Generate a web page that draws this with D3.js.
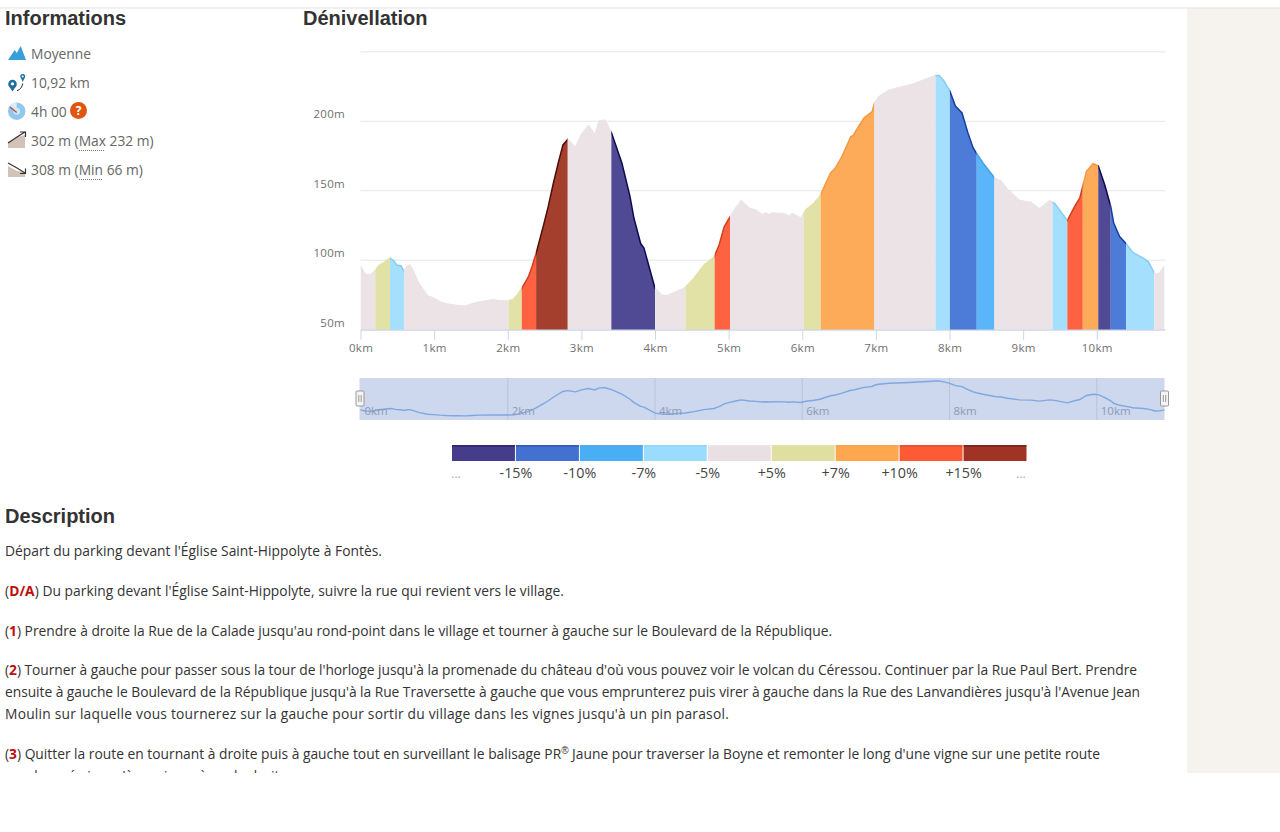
<!DOCTYPE html>
<html lang="fr"><head><meta charset="utf-8"><title>Dénivellation</title>
<script src="https://cdn.jsdelivr.net/npm/d3@7/dist/d3.min.js"></script>
<style>
html,body{margin:0;padding:0;background:#fff;overflow:hidden}
svg{display:block}
text{font-family:"Open Sans","Noto Sans",sans-serif}
.h{font-family:"Liberation Sans",Arial,sans-serif;font-weight:700;font-size:20px;fill:#333}
.info{font-size:13.8px;fill:#666}
.para{font-size:13.8px;fill:#333}
.para .red{fill:#c00d0d;font-weight:700}
.tick-l{font-size:11.5px;fill:#707070;letter-spacing:.3px}
</style></head><body>
<svg id="c" width="1280" height="832"></svg>
<script>
// Elevation profile: distance (km) and altitude (m)
const distanceKm = [0,.05,.086,.15,.2,.245,.31,.4,.45,.49,.55,.59,.63,.67,.72,.79,.91,.99,1.08,1.17,1.31,1.42,1.51,1.62,1.8,1.87,2.01,2.08,2.14,2.19,2.28,2.33,2.385,2.48,2.55,2.62,2.69,2.75,2.815,2.92,3.0,3.095,3.185,3.24,3.32,3.41,3.55,3.66,3.715,3.805,3.85,4.0,4.09,4.167,4.26,4.416,4.53,4.665,4.8,4.87,4.94,5.0,5.095,5.17,5.28,5.37,5.46,5.5,5.55,5.59,5.75,5.82,5.865,5.98,6.05,6.16,6.24,6.32,6.385,6.45,6.54,6.66,6.69,6.75,6.84,6.95,6.98,7.04,7.18,7.38,7.52,7.7,7.81,7.86,7.925,8.005,8.08,8.17,8.25,8.32,8.365,8.455,8.615,8.7,8.79,8.95,9.11,9.22,9.36,9.43,9.6,9.7,9.77,9.86,9.95,10.02,10.11,10.19,10.23,10.31,10.4,10.49,10.63,10.7,10.79,10.855,10.92];
const altitudeM = [95.5,91,89.4,90,92.5,96,98,101.5,99.8,96.6,96,92,95.5,96.6,92,83.4,74.3,72.8,70,68.5,67.5,66.8,68.5,70,71.6,71,70.7,72,75.7,79.8,88,95.5,105,124,138.7,155.6,171,183,187,181,190.4,197,190.4,200,200.8,191.6,170,146,130,112,108.7,79.8,75,74.5,76.7,80.5,87,96.6,102,111,124,129.6,137.5,142.8,137.5,136,132.7,134,132.7,134,133.5,131.5,133.5,130.3,136.3,141,146,155.6,162.8,166.4,174.8,189,189.7,195,202.5,207,213,217.6,222.4,225,227,230.6,233,233,229,221.7,211,206,191.6,181,177,170,159,156.7,150.8,143,141.6,136.8,142.8,140.7,128.6,138.7,144.8,164,169.5,168,154,138.7,126.7,117,111.8,105.6,101.5,99,90,90.6,95.5];
// Slope zones: upper bound of each stretch (km) and its class
const zoneEndKm = [.2,.4,.59,2.014,2.19,2.385,2.815,3.407,4,4.416,4.81,5.02,6.02,6.25,6.98,7.81,8.005,8.37,8.61,9.4,9.6,9.81,10.02,10.19,10.4,10.78,10.92];
const zoneClass = [4,5,3,4,5,7,8,4,0,4,5,7,4,5,6,4,3,1,2,4,3,7,6,0,1,3,4];
// Legend
const legendFill = ["#453d8c","#4371d2","#4aaef5","#9adcfd","#e8e0e3","#dfdfa0","#fda84e","#fd5a36","#a03323"];
const areaFill   = ["#504993","#4d7bd8","#5ab6f8","#a4e0fd","#ebe3e6","#e2e2a6","#fdab58","#fe6240","#a53f2d"];
const lineStroke = ["#0e0a50","#17409e","#45a0e2","#86cdf2","#ebe3e6","#e2e2a6","#f09a48","#d0401f","#4f0d04"];
const legendLabels = ["-15%","-10%","-7%","-5%","+5%","+7%","+10%","+15%"];
const yTicks = [50,100,150,200,250];
const xTicks = [0,1,2,3,4,5,6,7,8,9,10];
const navTicks = [0,2,4,6,8,10];
const infoLines = ["Moyenne","10,92 km","4h 00"];

const svg = d3.select("#c");
const data = distanceKm.map((d,i)=>({d,a:altitudeM[i]}));
const x = d3.scaleLinear().domain([0,10.92]).range([360.5,1164.5]);
const y = d3.scaleLinear().domain([50,250]).range([329.7,51.8]);
const x0 = x.range()[0], x1 = x.range()[1];

// page furniture
svg.append("rect").attr("x",1187).attr("y",8).attr("width",93).attr("height",765).attr("fill","#f6f3ee");
svg.append("line").attr("x1",0).attr("x2",1280).attr("y1",8).attr("y2",8).attr("stroke","#e4e4e4");

// headings
[["Informations",5,25],["Dénivellation",303,25],["Description",5,523]].forEach(([t,a,b])=>
  svg.append("text").attr("class","h").attr("x",a).attr("y",b).text(t));

// main chart
const g = svg.append("g");
g.append("g").selectAll("line").data(yTicks).join("line")
  .attr("x1",x0).attr("x2",x1+1).attr("y1",d=>y(d)).attr("y2",d=>y(d))
  .attr("stroke",d=>d===50?"#ccd6eb":"#e6e6e6");
g.append("g").selectAll("text").data(yTicks.slice(0,4)).join("text").attr("class","tick-l")
  .attr("x",345).attr("y",d=>y(d)-3).attr("text-anchor","end").text(d=>d+"m");

const defs = svg.append("defs");
const area = d3.area().x(d=>x(d.d)).y0(y(50)).y1(d=>y(d.a));
const line = d3.line().x(d=>x(d.d)).y(d=>y(d.a));
zoneEndKm.forEach((end,i)=>{
  const start = i?zoneEndKm[i-1]:0, id="z"+i;
  defs.append("clipPath").attr("id",id).append("rect")
    .attr("x",x(start)).attr("y",40).attr("width",x(end)-x(start)).attr("height",300);
  const c = zoneClass[i];
  const z = g.append("g").attr("clip-path",`url(#${id})`);
  z.append("path").datum(data).attr("d",area).attr("fill",areaFill[c]);
  z.append("path").datum(data).attr("d",line).attr("fill","none").attr("stroke",lineStroke[c]).attr("stroke-width",1.5);
});

const xAxis = d3.axisBottom(x).tickValues(xTicks).tickFormat(d=>d+"km").tickSize(10).tickSizeOuter(0).tickPadding(4);
const ax = g.append("g").attr("transform",`translate(0,${y(50)})`).call(xAxis);
ax.attr("font-size",null).attr("font-family",null);
ax.select(".domain").attr("stroke","#ccd6eb");
ax.selectAll("line").attr("stroke","#ccd6eb");
ax.selectAll("text").attr("class","tick-l");

// navigator
const navY = d3.scaleLinear().domain([66,233]).range([416,381]);
const nav = svg.append("g");
nav.append("rect").attr("x",x0-1).attr("y",378).attr("width",x1-x0+1).attr("height",42).attr("fill","#cdd7ed");
nav.selectAll("line.g").data(navTicks.slice(1)).join("line").attr("class","g")
  .attr("x1",d=>x(d)).attr("x2",d=>x(d)).attr("y1",378).attr("y2",420).attr("stroke","#b9c3da");
nav.append("path").datum(data).attr("fill","none").attr("stroke","#7ea8e0").attr("stroke-width",1.4)
  .attr("d",d3.line().x(d=>x(d.d)).y(d=>navY(d.a)));
nav.selectAll("text").data(navTicks).join("text")
  .attr("x",d=>x(d)+4).attr("y",415).attr("font-size",11.5).attr("fill","#8f9ab3").text(d=>d+"km");
[x0-0.5,x1].forEach(h=>{
  const k = nav.append("g").attr("transform",`translate(${h},0)`);
  k.append("rect").attr("x",-4).attr("y",391).attr("width",8).attr("height",15).attr("rx",1).attr("fill","#f4f4f4").attr("stroke","#999");
  [-1.2,1.2].forEach(o=>k.append("line").attr("x1",o).attr("x2",o).attr("y1",395).attr("y2",402).attr("stroke","#999"));
});

// colour legend
const lx = d3.scaleBand().domain(d3.range(9)).range([452,1027.5]);
const leg = svg.append("g");
leg.selectAll("rect").data(legendFill).join("rect")
  .attr("x",(d,i)=>lx(i)).attr("y",445.3).attr("width",lx.bandwidth()-1).attr("height",15.7).attr("fill",d=>d);
leg.selectAll("line").data(lineStroke).join("line")
  .attr("x1",(d,i)=>lx(i)).attr("x2",(d,i)=>lx(i)+lx.bandwidth()-1).attr("y1",445.8).attr("y2",445.8).attr("stroke",d=>d);
leg.selectAll("text.l").data(legendLabels).join("text").attr("class","l")
  .attr("x",(d,i)=>lx(i+1)).attr("y",478).attr("text-anchor","middle").attr("font-size",14.3).attr("fill","#444").text(d=>d);
[456,1021].forEach(p=>leg.append("text").attr("x",p).attr("y",478).attr("text-anchor","middle").attr("font-size",12).attr("fill","#aaa").text("..."));

// information column
infoLines.forEach((t,i)=>svg.append("text").attr("class","info").attr("x",31).attr("y",59+i*29).text(t));
function measured(txt,yy,word){
  const el = svg.append("text").attr("class","info").attr("x",31).attr("y",yy);
  el.append("tspan").text(txt[0]);
  el.append("tspan").text(word);
  el.append("tspan").text(txt[1]);
}
measured(["302 m ("," 232 m)"],146,"Max");
measured(["308 m ("," 66 m)"],175,"Min");
svg.append("line").attr("x1",79).attr("x2",105).attr("y1",150.5).attr("y2",150.5).attr("stroke","#777").attr("stroke-dasharray","1 1");
svg.append("line").attr("x1",79).attr("x2",103).attr("y1",179.5).attr("y2",179.5).attr("stroke","#777").attr("stroke-dasharray","1 1");
svg.append("circle").attr("cx",78.5).attr("cy",110.5).attr("r",8.5).attr("fill","#e0560f");
svg.append("text").attr("x",78.5).attr("y",115).attr("text-anchor","middle").attr("font-size",12).attr("font-weight",700).attr("fill","#fff").text("?");

// icons
const ic = svg.append("g");
ic.append("path").attr("d","M8 60 L14.7 50 L16.8 53 L20.7 46 L26 60 Z").attr("fill","#37a0d8");
ic.append("circle").attr("cx",12.5).attr("cy",84).attr("r",3).attr("fill","none").attr("stroke","#1e6f9f").attr("stroke-width",2.6);
ic.append("path").attr("d","M8.6 85.5 L12.5 91.5 L16.4 85.5 Z").attr("fill","#1e6f9f");
ic.append("circle").attr("cx",22.7).attr("cy",76.5).attr("r",1.8).attr("fill","none").attr("stroke","#1e6f9f").attr("stroke-width",1.4);
ic.append("path").attr("d","M20.9 78 L22.7 82 L24.5 78 Z").attr("fill","#1e6f9f");
ic.append("path").attr("d","M22.7 83.5 Q22 89 17 90.7").attr("fill","none").attr("stroke","#333");
ic.append("circle").attr("cx",16.7).attr("cy",111.2).attr("r",8.7).attr("fill","#8fc8ec");
ic.append("path").attr("d","M16.7 111.2 L10 106 A8.7 8.7 0 0 1 16.7 102.5 Z").attr("fill","#dcecf7");
ic.append("circle").attr("cx",16.7).attr("cy",111.2).attr("r",3.4).attr("fill","#cfe6f5");
ic.append("line").attr("x1",10).attr("y1",107).attr("x2",16.7).attr("y2",112.5).attr("stroke","#c0504d").attr("stroke-width",1.5);
ic.append("path").attr("d","M8 148 L8 142 L17 137 L25 135 L25 148 Z").attr("fill","#d3c2b6");
ic.append("path").attr("d","M8 143 L17 137 L25 132 M20 132 L25.5 132 L25.5 137").attr("fill","none").attr("stroke","#333").attr("stroke-width",1.2);
ic.append("path").attr("d","M8 166 L17 171 L25 172 L25 177 L8 177 Z").attr("fill","#d3c2b6");
ic.append("path").attr("d","M8 163 L17 168 L25 173 M20 173.5 L25.5 173.5 L25.5 168.5").attr("fill","none").attr("stroke","#333").attr("stroke-width",1.2);

// description: baseline, bold tag, text, right end of the line
defs.append("clipPath").attr("id","descClip").append("rect").attr("x",0).attr("y",530).attr("width",1187).attr("height",243);
const desc = svg.append("g").attr("clip-path","url(#descClip)");
const paragraphLines = [
 [555.5,null,"Départ du parking devant l'Église Saint-Hippolyte à Fontès.",382],
 [595.5,"D/A",") Du parking devant l'Église Saint-Hippolyte, suivre la rue qui revient vers le village.",564],
 [635.5,"1",") Prendre à droite la Rue de la Calade jusqu'au rond-point dans le village et tourner à gauche sur le Boulevard de la République.",832],
 [674.5,"2",") Tourner à gauche pour passer sous la tour de l'horloge jusqu'à la promenade du château d'où vous pouvez voir le volcan du Céressou. Continuer par la Rue Paul Bert. Prendre",1137],
 [696.5,null,"ensuite à gauche le Boulevard de la République jusqu'à la Rue Traversette à gauche que vous emprunterez puis virer à gauche dans la Rue des Lanvandières jusqu'à l'Avenue Jean",1140],
 [718.5,null,"Moulin sur laquelle vous tournerez sur la gauche pour sortir du village dans les vignes jusqu'à un pin parasol.",729],
 [758.5,"3",") Quitter la route en tournant à droite puis à gauche tout en surveillant le balisage PR® Jaune pour traverser la Boyne et remonter le long d'une vigne sur une petite route",1100],
 [780.5,null,"goudronnée jusqu'à un virage à angle droit.",283]
];
paragraphLines.forEach(([b,tag,t,end])=>{
  const el = desc.append("text").attr("class","para").attr("x",5).attr("y",b);
  if(tag){ el.append("tspan").text("("); el.append("tspan").attr("class","red").text(tag); }
  if(t.includes("®")){
    const [p,q]=t.split("®");
    el.append("tspan").text(p);
    el.append("tspan").attr("dy",-5).attr("font-size",10).attr("fill","#333").attr("font-family","Liberation Sans").text("®");
    el.append("tspan").attr("dy",5).text(q);
  } else el.append("tspan").text(t);
  const n = el.node(), extra = (end-5) - n.getComputedTextLength();
  el.style("letter-spacing", (extra/n.getNumberOfChars())+"px");
});
</script></body></html>
